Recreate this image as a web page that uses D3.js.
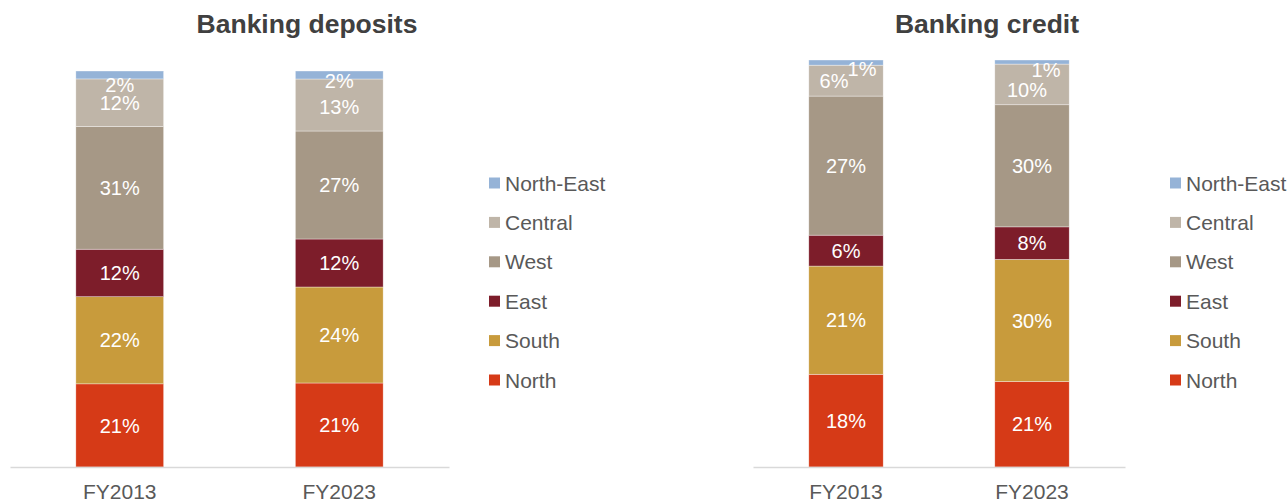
<!DOCTYPE html>
<html>
<head>
<meta charset="utf-8">
<script src="https://cdn.jsdelivr.net/npm/d3@7"></script>
<style>
  html, body { margin: 0; padding: 0; background: #fff; }
  svg { display: block; font-family: "Liberation Sans", Arial, sans-serif; }
</style>
</head>
<body>
<svg id="chart" width="1288" height="501"></svg>
<script>
// Regional shares (%) of banking deposits and credit, bottom-to-top stacking order
const years = ["FY2013", "FY2023"];
const regions = ["North", "South", "East", "West", "Central", "North-East"];
const depositsFY2013 = [21, 22, 12, 31, 12, 2];
const depositsFY2023 = [21, 24, 12, 27, 13, 2];
const creditFY2013 = [18, 21, 6, 27, 6, 1];
const creditFY2023 = [21, 30, 8, 30, 10, 1];

const colors = {
  "North": "#D63A17",
  "South": "#C89B3C",
  "East": "#7D1D2A",
  "West": "#A69886",
  "Central": "#BFB5A8",
  "North-East": "#95B3D7"
};

// Layout of each panel
const panels = [
  {
    title: "Banking deposits",
    values: { FY2013: depositsFY2013, FY2023: depositsFY2023 },
    x: [10, 449], y: [467, 71], titleX: 307,
    legendX: 489,
    nudge: {
      "FY2013|North-East": [0, 9.5],
      "FY2023|North-East": [0, 5.5],
      "FY2023|Central": [0, 1.5]
    }
  },
  {
    title: "Banking credit",
    values: { FY2013: creditFY2013, FY2023: creditFY2023 },
    x: [753, 1125], y: [467, 60], titleX: 987,
    legendX: 1170,
    nudge: {
      "FY2013|North-East": [16, 6.5],
      "FY2013|Central": [-12, 0],
      "FY2023|North-East": [14, 7.5],
      "FY2023|Central": [-5, 5.5]
    }
  }
];

const svg = d3.select("#chart");

panels.forEach(p => {
  const rows = years.map(yr => {
    const r = { year: yr };
    regions.forEach((reg, i) => { r[reg] = p.values[yr][i]; });
    return r;
  });

  // 100% stacked: each column is normalised to its own total
  const series = d3.stack().keys(regions).offset(d3.stackOffsetExpand)(rows);

  const x = d3.scaleBand().domain(years).range(p.x)
    .paddingInner(0.6).paddingOuter(0.3);
  const y = d3.scaleLinear().domain([0, 1]).range(p.y);

  const g = svg.append("g");

  // title
  g.append("text")
    .attr("x", p.titleX).attr("y", 33)
    .attr("text-anchor", "middle")
    .attr("font-size", 26.5).attr("font-weight", "bold")
    .attr("fill", "#404040")
    .text(p.title);

  // stacked bars
  const layer = g.selectAll("g.layer").data(series).join("g")
    .attr("class", "layer")
    .attr("fill", d => colors[d.key]);

  layer.selectAll("rect").data(d => d.map(v => Object.assign(v, { key: d.key })))
    .join("rect")
    .attr("x", d => x(d.data.year))
    .attr("width", x.bandwidth())
    .attr("y", d => y(d[1]))
    .attr("height", d => y(d[0]) - y(d[1]))
    .attr("stroke", "#ffffff")
    .attr("stroke-width", 0.6)
    .attr("stroke-opacity", 0.6);

  // axis
  const axis = g.append("g")
    .attr("transform", `translate(0,${p.y[0]})`)
    .call(d3.axisBottom(x).tickSize(0).tickPadding(0));
  axis.select(".domain").attr("stroke", "#d9d9d9").attr("stroke-width", 1.5);
  axis.selectAll("text")
    .attr("y", 32).attr("dy", 0)
    .attr("font-size", 21)
    .attr("font-family", "Liberation Sans, Arial, sans-serif")
    .attr("fill", "#595959");

  // data labels
  series.forEach(s => {
    s.forEach(d => {
      const k = d.data.year + "|" + s.key;
      const off = p.nudge[k] || [0, 0];
      const cy = (y(d[0]) + y(d[1])) / 2 + off[1];
      g.append("text")
        .attr("x", x(d.data.year) + x.bandwidth() / 2 + off[0])
        .attr("y", cy)
        .attr("dy", "0.36em")
        .attr("text-anchor", "middle")
        .attr("font-size", 20)
        .attr("fill", "#ffffff")
        .text(d.data[s.key] + "%");
    });
  });

  // legend
  const legendOrder = regions.slice().reverse();
  const ly = d3.scalePoint().domain(legendOrder).range([183, 380]);
  const lg = g.append("g");
  legendOrder.forEach(reg => {
    lg.append("rect")
      .attr("x", p.legendX).attr("y", ly(reg) - 5.5)
      .attr("width", 11).attr("height", 11)
      .attr("fill", colors[reg]);
    lg.append("text")
      .attr("x", p.legendX + 16).attr("y", ly(reg))
      .attr("dy", "0.36em")
      .attr("font-size", 21)
      .attr("fill", "#595959")
      .text(reg);
  });
});
</script>
</body>
</html>
